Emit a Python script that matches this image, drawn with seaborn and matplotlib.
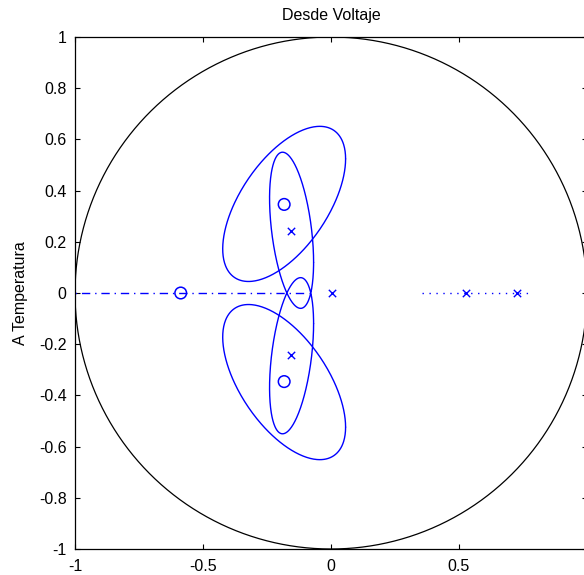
import numpy as np
import matplotlib
matplotlib.use("Agg")
import matplotlib.pyplot as plt
import seaborn as sns

# ---- data ----
zero_re = [-0.587, -0.183, -0.183]
zero_im = [0.0, 0.346, -0.346]
pole_re = [0.005, 0.528, 0.727, -0.155, -0.155]
pole_im = [0.0, 0.0, 0.0, 0.243, -0.243]

# real-axis uncertainty intervals
zero_interval = [-1.05, -0.084]   # dash-dot
pole_interval = [0.357, 0.782]    # dotted

# complex zero uncertainty ellipse: cx, cy, half-width, half-height, correlation
zero_ellipse = [-0.183, 0.348, 0.240, 0.303, 0.58]
# complex pole uncertainty ellipse (folded about real axis)
pole_ellipse = [-0.154, 0.245, 0.086, 0.305, -0.41]

xticks = [-1, -0.5, 0, 0.5]
xticklabels = ["-1", "-0.5", "0", "0.5"]
yticks = [-1, -0.8, -0.6, -0.4, -0.2, 0, 0.2, 0.4, 0.6, 0.8, 1]
yticklabels = ["-1", "-0.8", "-0.6", "-0.4", "-0.2", "0", "0.2", "0.4", "0.6", "0.8", "1"]

title = "Desde Voltaje"
ylabel = "A Temperatura"

# ---- style ----
sns.set_theme(style="white")
plt.rcParams["font.family"] = ["Liberation Sans", "DejaVu Sans"]
fs = 11.5
BLUE = "#0000FF"

fig = plt.figure(figsize=(5.84, 5.75), dpi=100)
ax = fig.add_axes([75 / 584, 26 / 575, 512 / 584, 512 / 575])


def ellipse_pts(p, n=400):
    cx, cy, sx, sy, rho = p
    t = np.linspace(0, 2 * np.pi, n)
    x = cx + sx * np.cos(t)
    y = cy + sy * (rho * np.cos(t) + np.sqrt(1 - rho ** 2) * np.sin(t))
    return x, y


# unit circle
th = np.linspace(0, 2 * np.pi, 600)
ax.plot(np.cos(th), np.sin(th), color="black", lw=0.9)

# real-axis intervals
ax.plot(zero_interval, [0, 0], color=BLUE, lw=1.0, linestyle=(0, (6, 3.5, 1, 3.5)))
ax.plot(pole_interval, [0, 0], color=BLUE, lw=1.0, linestyle=(0, (1, 4)))

# complex zero ellipses (pair)
ex, ey = ellipse_pts(zero_ellipse)
ax.plot(ex, ey, color=BLUE, lw=1.0)
ax.plot(ex, -ey, color=BLUE, lw=1.0)

# complex pole region folded onto upper / lower half-planes
px, py = ellipse_pts(pole_ellipse)
ax.plot(px, np.abs(py), color=BLUE, lw=1.0)
ax.plot(px, -np.abs(py), color=BLUE, lw=1.0)

# markers
sns.scatterplot(x=pole_re, y=pole_im, marker="x", s=28, color=BLUE,
                linewidth=1.0, ax=ax, zorder=5)
sns.scatterplot(x=zero_re, y=zero_im, marker="o", s=70, facecolor="none",
                edgecolor=BLUE, linewidth=1.1, ax=ax, zorder=5)

ax.set_xlim(-1, 1)
ax.set_ylim(-1, 1)
ax.set_xticks(xticks)
ax.set_xticklabels(xticklabels, fontsize=fs)
ax.set_yticks(yticks)
ax.set_yticklabels(yticklabels, fontsize=fs)
ax.tick_params(direction="in", length=3.6, width=0.8, color="black",
               top=True, right=True, bottom=True, left=True, pad=6,
               labelcolor="black")
ax.tick_params(axis="x", pad=7)
for s in ax.spines.values():
    s.set_color("black")
    s.set_linewidth(0.9)
    s.set_visible(True)

ax.set_title(title, fontsize=fs, pad=12, color="black")
ax.set_ylabel(ylabel, fontsize=fs, labelpad=8, color="black")
ax.set_facecolor("white")
fig.patch.set_facecolor("white")

fig.savefig("out.png", dpi=100)
